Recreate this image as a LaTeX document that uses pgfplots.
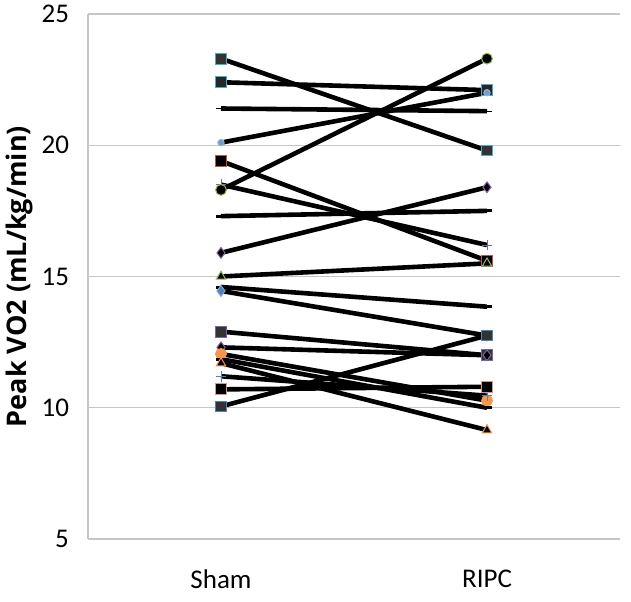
\documentclass[border=0pt]{standalone}
\usepackage{pgfplots}
\pgfplotsset{compat=1.18}
\usepackage{fontspec}
\setmainfont{Carlito}
\newfontfamily\osans{Open Sans}

\definecolor{xlblue}{HTML}{4F81BD}
\definecolor{xlred}{HTML}{C0504D}
\definecolor{xlgreen}{HTML}{9BBB59}
\definecolor{xlpurple}{HTML}{8064A2}
\definecolor{xlaqua}{HTML}{4BACC6}
\definecolor{xlorange}{HTML}{F79646}

% markers: dark fill, thin coloured edge
\pgfplotsset{mk/.style 2 args={mark options={solid, line width=0.5pt, fill=#1, draw=#2}}}

\begin{document}
\begin{tikzpicture}
\begin{axis}[
    scale only axis,
    width=266pt, height=262.5pt,
    xmin=0.5, xmax=2.5,
    ymin=5, ymax=25,
    ytick={5,10,15,20,25},
    xtick={1,2},
    xticklabels={Sham,RIPC},
    major tick length=0pt,
    axis x line*=bottom,
    axis y line*=left,
    axis line style={draw=gray!45, line width=0.6pt},
    ymajorgrids,
    grid style={draw=gray!45, line width=0.6pt},
    tick label style={font=\fontsize{13.5}{15}\selectfont},
    /pgf/number format/assume math mode=true,
    yticklabel style={xshift=-6pt, inner ysep=0pt},
    xticklabel style={yshift=-12pt},
    ylabel={\osans\bfseries Peak VO2 (mL/kg/min)},
    ylabel style={font=\fontsize{13.5}{15}\selectfont, inner sep=0pt, yshift=1pt},
    every axis plot/.append style={black, line width=2.3pt, mark size=2.7pt},
    clip=false,
]
\coordinate (o) at (rel axis cs:0,0);
\addplot[mark=square*, mk={black!80}{xlaqua}] coordinates {(1,23.3) (2,19.8)};
\addplot[mark=square*, mk={black!85}{xlaqua}] coordinates {(1,22.4) (2,22.1)};
\addplot[mark=-, mk={black}{black}] coordinates {(1,21.4) (2,21.3)};
\addplot[mark=*, mark size=1.6pt, mk={xlblue!80}{xlblue!60}] coordinates {(1,20.1) (2,22.0)};
\addplot[mark=square*, mk={black}{xlred}] coordinates {(1,19.4) (2,15.6)};
\addplot[mark=+, mk={none}{xlpurple}] coordinates {(1,18.5) (2,16.2)};
\addplot[mark=*, mk={black}{xlgreen}] coordinates {(1,18.3) (2,23.3)};
\addplot[mark=-, mk={xlred}{xlred}, mark options={line width=1.5pt}] coordinates {(1,17.3) (2,17.5)};
\addplot[mark=diamond*, mk={black}{xlpurple}] coordinates {(1,15.9) (2,18.4)};
\addplot[mark=triangle*, mk={black}{xlgreen}] coordinates {(1,15.0) (2,15.5)};
\addplot[mark=-, mk={xlorange}{xlorange}, mark options={line width=1.5pt}] coordinates {(1,14.6) (2,13.85)};
\addplot[mark=diamond*, mk={xlblue}{xlblue!70}] coordinates {(1,14.45) (2,12.75)};
\addplot[mark=square*, mk={black!80}{xlpurple}] coordinates {(1,12.9) (2,12.0)};
\addplot[mark=diamond*, mk={black}{xlpurple}] coordinates {(1,12.3) (2,12.0)};
\addplot[mark=*, mk={xlorange}{xlorange}] coordinates {(1,12.05) (2,10.27)};
\addplot[mark=-, mk={xlorange}{xlorange}, mark options={line width=1.5pt}] coordinates {(1,11.85) (2,10.0)};
\addplot[mark=triangle*, mk={black}{xlorange}] coordinates {(1,11.7) (2,9.15)};
\addplot[mark=+, mk={none}{xlblue}] coordinates {(1,11.2) (2,10.46)};
\addplot[mark=square*, mk={black}{xlred!60}] coordinates {(1,10.7) (2,10.8)};
\addplot[mark=square*, mk={black!80}{xlblue}] coordinates {(1,10.05) (2,12.75)};
\end{axis}
\path ([xshift=-44pt, yshift=-31pt]o) rectangle +(315.5pt, 300.5pt);
\end{tikzpicture}
\end{document}
